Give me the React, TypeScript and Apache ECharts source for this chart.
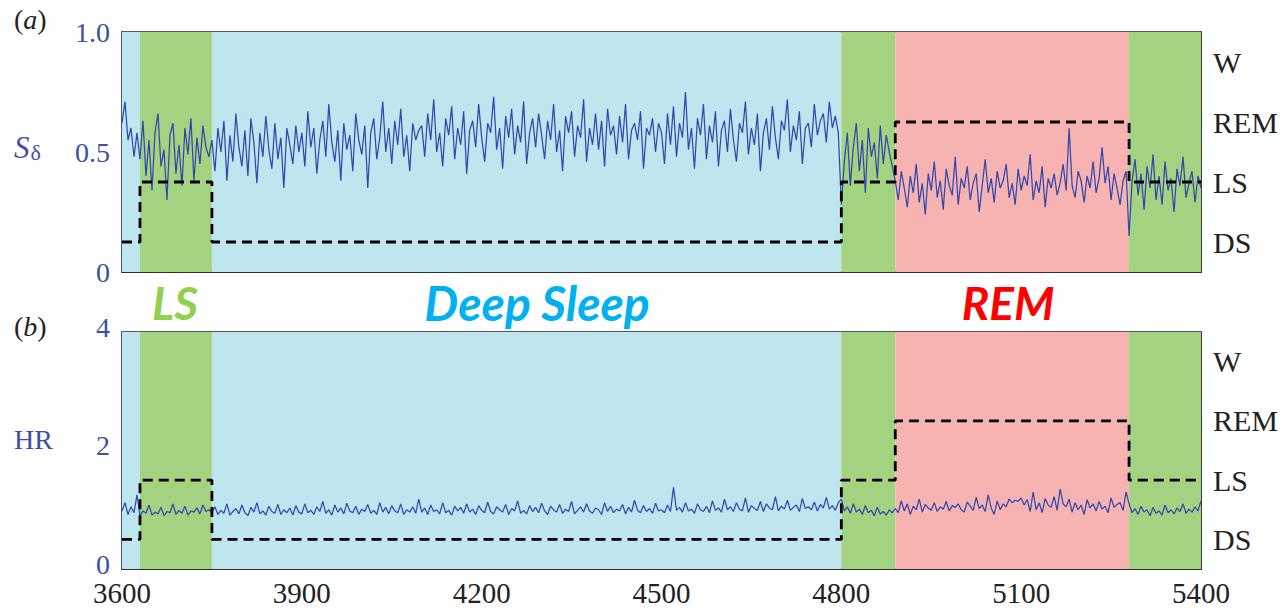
import React, { useEffect, useRef } from "react";
import * as echarts from "echarts";

// time axis
const startTime = 3600;
const sampleStep = 5;
const xTicks = { min: 3600, max: 5400, interval: 300 };

// sleep stages (right axis categories) and hypnogram
const stageNames = ["DS", "LS", "REM", "W"];
const stageTimes = [3600, 3630, 3750, 4800, 4890, 5280, 5400];
const stageSeq = ["DS", "LS", "DS", "LS", "REM", "LS"];
const stageColors: Record<string, string> = { DS: "#bfe6ee", LS: "#a3d380", REM: "#f6b3b1" };

// (a) S_delta, in hundredths, one value every 5 s from 3600 to 5400
const sdValues = [
  62, 71, 55, 60, 48, 58,
  47, 63, 40, 55, 34, 58, 66, 44, 51, 30, 57, 62, 41, 53, 36, 60, 49, 64, 38, 56, 45, 61, 52, 48,
  55, 42, 60, 50, 63, 38, 57, 46, 66, 52, 44, 59, 40, 64, 54, 37, 58, 48, 65, 51, 43, 62, 47, 56, 35, 60, 53, 45, 61, 50,
  58, 44, 67, 52, 60, 41, 55, 63, 48, 70, 54, 46, 59, 38, 62, 51, 57, 42, 66, 55, 49, 61, 35, 58, 64, 47, 56, 71, 50, 60, 45, 63, 53, 68, 48, 57, 42, 62, 55, 59,
  61, 48, 66, 55, 72, 50, 58, 44, 64, 57, 69, 47, 60, 53, 67, 41, 59, 63, 52, 70, 56, 46, 62, 58, 73, 51, 60, 43, 65, 56, 68, 49, 61, 54, 71, 45, 58, 64, 52, 66,
  57, 47, 63, 55, 70, 50, 59, 42, 65, 58, 67, 48, 61, 56, 72, 46, 60, 53, 66, 51, 63, 44, 68, 57, 61, 49, 65, 54, 70, 47, 59, 62, 55, 67, 43, 60, 57, 64, 50, 62,
  58, 45, 66, 53, 69, 48, 62, 56, 75, 51, 60, 43, 64, 57, 70, 47, 61, 54, 67, 44, 59, 63, 50, 68, 55, 46, 62, 58, 71, 49, 60, 53, 66, 42, 58, 64, 51, 69, 56, 47,
  63, 59, 72, 50, 61, 55, 67, 45, 60, 62, 52, 70, 57, 63, 66, 54, 71, 60, 65, 58,
  28, 46, 58, 36, 52, 62, 42, 55, 33, 60, 48, 54, 39, 61, 45, 57, 50, 44,
  38, 30, 42, 35, 27, 40, 33, 45, 29, 37, 24, 41, 34, 46, 31, 38, 26, 43, 36, 32, 48, 28, 39, 35, 44, 30, 37, 41, 25, 36, 47, 33, 39, 29, 42, 35, 38, 45, 31, 37,
  28, 43, 34, 40, 36, 49, 30, 38, 33, 44, 27, 39, 35, 41, 32, 37, 45, 34, 60, 36, 31, 42, 38, 29, 40, 35, 46, 33, 39, 52, 37, 44, 30, 41, 35, 28, 38, 42,
  15, 38, 47, 32, 41, 26, 44, 35, 49, 30, 40, 28, 46, 34, 39, 25, 43, 36, 48, 31, 37, 42, 29, 40, 35,
];

// (b) HR, in hundredths, one value every 5 s from 3600 to 5400
const hrValues = [
  98, 112, 92, 105, 95, 125,
  90, 98, 94, 108, 91, 96, 93, 104, 90, 97, 95, 110, 92, 99, 94, 106, 91, 98, 96, 103, 93, 108, 97, 100,
  95, 105, 92, 99, 94, 110, 91, 97, 102, 93, 108, 95, 90, 104, 96, 112, 93, 98, 91, 106, 97, 94, 109, 92, 100, 95, 103, 91, 107, 96,
  93, 110, 95, 99, 92, 105, 97, 114, 94, 100, 91, 108, 96, 103, 93, 111, 98, 95, 106, 92, 101, 97, 109, 94, 99, 92, 112, 96, 104, 93, 107, 98, 95, 110, 92, 100, 96, 105, 94, 118,
  96, 103, 92, 108, 97, 100, 93, 112, 95, 99, 91, 106, 98, 104, 94, 110, 96, 101, 92, 107, 99, 95, 113, 97, 93, 105, 100, 96, 109, 92, 102, 98, 115, 94, 99, 93, 107, 97, 104, 95,
  111, 98, 92, 106, 100, 96, 109, 94, 101, 97, 114, 93, 99, 105, 96, 110, 98, 94, 103, 100, 92, 112, 97, 106, 95, 101, 98, 109, 93, 104, 96, 116, 99, 95, 107, 97, 102, 94, 111, 98,
  100, 95, 108, 97, 138, 99, 104, 96, 112, 98, 101, 94, 110, 100, 97, 106, 95, 115, 99, 103, 96, 118, 100, 105, 97, 112, 101, 98, 120, 96,
  107, 102, 99, 114, 97, 110, 103, 100, 122, 98, 106, 101, 116, 99, 104, 108, 97, 119, 102, 105, 100, 113, 98, 109, 103, 121, 101, 107, 99, 112,
  118, 98, 105, 94, 110, 96, 101, 92, 107, 95, 99, 90, 104, 93, 97, 91, 100, 95,
  102, 95, 115, 98, 110, 92, 106, 100, 118, 96, 109, 103, 99, 112, 97, 105, 101, 114, 98, 107, 104, 110, 100, 96, 113, 106, 99, 121, 102, 108, 97, 125, 103, 92, 115, 100, 110, 105, 118, 112,
  116, 114, 120, 108, 117, 97, 130, 100, 112, 95, 119, 108, 104, 122, 99, 135, 110, 105, 118, 96, 112, 100, 108, 92, 117, 103, 110, 98, 114, 101, 106, 95, 120, 104, 109, 112, 99, 130,
  110, 95, 102, 92, 106, 96, 100, 90, 104, 94, 98, 91, 108, 95, 100, 93, 103, 97, 110, 94, 101, 96, 105, 98, 115,
];

const serif = "Liberation Serif";
const blue = "#3d4fa3";
const dark = "#222";

export default function App() {
  const ref = useRef<HTMLDivElement>(null);

  useEffect(() => {
    if (!ref.current) return;
    const chart = echarts.init(ref.current, null, { renderer: "svg" });

    const toSeries = (vals: number[]) => vals.map((v, i) => [startTime + i * sampleStep, v / 100]);
    const hypno: [number, number][] = [];
    stageSeq.forEach((s, k) => {
      const idx = stageNames.indexOf(s);
      hypno.push([stageTimes[k], idx]);
      hypno.push([stageTimes[k + 1], idx]);
    });
    const bands = stageSeq.map((s, k) => [
      { xAxis: stageTimes[k], itemStyle: { color: stageColors[s], opacity: 1 } },
      { xAxis: stageTimes[k + 1] },
    ]);

    const grids = [
      { left: 122, right: 82, top: 32, height: 240 },
      { left: 122, right: 82, top: 332, height: 237 },
    ];

    const xAxes = grids.map((_, g) => ({
      gridIndex: g,
      type: "value",
      min: xTicks.min,
      max: xTicks.max,
      interval: xTicks.interval,
      splitLine: { show: false },
      axisTick: { show: false },
      axisLine: { show: true, lineStyle: { color: dark, width: 1.5 } },
      axisLabel: {
        show: g === 1,
        color: dark,
        fontFamily: serif,
        fontSize: 29,
        margin: 9,
        formatter: (v: number) => String(v),
      },
    }));

    const leftAxis = (g: number, max: number, interval: number) => ({
      gridIndex: g,
      type: "value",
      position: "left",
      min: 0,
      max,
      interval,
      splitLine: { show: false },
      axisTick: { show: false },
      axisLine: { show: true, onZero: false, lineStyle: { color: blue, width: 1.5 } },
      axisLabel: {
        color: blue,
        fontFamily: serif,
        fontSize: 28,
        margin: 12,
        formatter: (v: number) => (max === 1 && v === 1 ? "1.0" : String(v)),
        verticalAlign: g === 1 ? "bottom" : "middle",
        padding: g === 1 ? [0, 0, -9, 0] : 0,
      },
    });
    const rightAxis = (g: number) => ({
      gridIndex: g,
      type: "category",
      position: "right",
      data: stageNames,
      boundaryGap: true,
      axisLine: { show: true, lineStyle: { color: "#333", width: 1.5 } },
      axisTick: {
        show: true,
        inside: true,
        alignWithLabel: true,
        interval: 0,
        length: 15,
        lineStyle: { color: "#3d5a35", width: 1.2 },
      },
      axisLabel: { color: dark, fontFamily: serif, fontSize: 30, margin: 12 },
    });

    const signalStyle = { color: "#3149ad", width: 1.25 };
    const hypnoStyle = { color: "#000", width: 2.8, type: [10, 6] };

    const option: any = {
      animation: false,
      grid: grids.map((g) => ({ ...g, show: true, borderColor: "#222", borderWidth: 1.5 })),
      xAxis: xAxes,
      yAxis: [leftAxis(0, 1, 0.5), rightAxis(0), leftAxis(1, 4, 2), rightAxis(1)],
      series: [
        {
          type: "line",
          xAxisIndex: 0,
          yAxisIndex: 0,
          data: [],
          z: 1,
          markArea: { silent: true, data: bands },
        },
        {
          type: "line",
          xAxisIndex: 0,
          yAxisIndex: 0,
          data: toSeries(sdValues),
          showSymbol: false,
          lineStyle: signalStyle,
          z: 3,
        },
        {
          type: "line",
          xAxisIndex: 0,
          yAxisIndex: 1,
          data: hypno,
          showSymbol: false,
          lineStyle: hypnoStyle,
          z: 4,
        },
        {
          type: "line",
          xAxisIndex: 1,
          yAxisIndex: 2,
          data: [],
          z: 1,
          markArea: { silent: true, data: bands },
        },
        {
          type: "line",
          xAxisIndex: 1,
          yAxisIndex: 2,
          data: toSeries(hrValues),
          showSymbol: false,
          lineStyle: signalStyle,
          z: 3,
        },
        {
          type: "line",
          xAxisIndex: 1,
          yAxisIndex: 3,
          data: hypno,
          showSymbol: false,
          lineStyle: hypnoStyle,
          z: 4,
        },
      ],
      graphic: [
        {
          type: "text",
          left: 14,
          top: 5,
          style: {
            text: "({i|a})",
            font: `28px '${serif}'`,
            fill: dark,
            rich: { i: { fontStyle: "italic", fontFamily: serif, fontSize: 28, fill: dark } },
          },
        },
        {
          type: "text",
          left: 14,
          top: 312,
          style: {
            text: "({i|b})",
            font: `28px '${serif}'`,
            fill: dark,
            rich: { i: { fontStyle: "italic", fontFamily: serif, fontSize: 28, fill: dark } },
          },
        },
        {
          type: "text",
          left: 14,
          top: 132,
          style: {
            text: "{s|S}{d|δ}",
            rich: {
              s: { fontStyle: "italic", fontFamily: serif, fontSize: 31, fill: blue, verticalAlign: "bottom" },
              d: { fontFamily: serif, fontSize: 22, fill: blue, padding: [14, 0, 0, 1] },
            },
          },
        },
        {
          type: "text",
          left: 14,
          top: 425,
          style: { text: "HR", font: `28px '${serif}'`, fill: blue },
        },
        {
          type: "text",
          x: 175,
          y: 302,
          style: {
            text: "LS",
            font: "italic bold 46px Lato",
            fill: "#92d050",
            align: "center",
            verticalAlign: "middle",
          },
        },
        {
          type: "text",
          x: 537,
          y: 302,
          style: {
            text: "Deep Sleep",
            font: "italic bold 48px Lato",
            fill: "#00b0f0",
            align: "center",
            verticalAlign: "middle",
          },
        },
        {
          type: "text",
          x: 1008,
          y: 302,
          style: {
            text: "REM",
            font: "italic bold 46px Lato",
            fill: "#ff0000",
            align: "center",
            verticalAlign: "middle",
          },
        },
      ],
    };

    chart.setOption(option);
    return () => chart.dispose();
  }, []);

  return (
    <div
      ref={ref}
      style={{ position: "fixed", left: 0, top: 0, width: 1283, height: 610, background: "#fff" }}
    />
  );
}
